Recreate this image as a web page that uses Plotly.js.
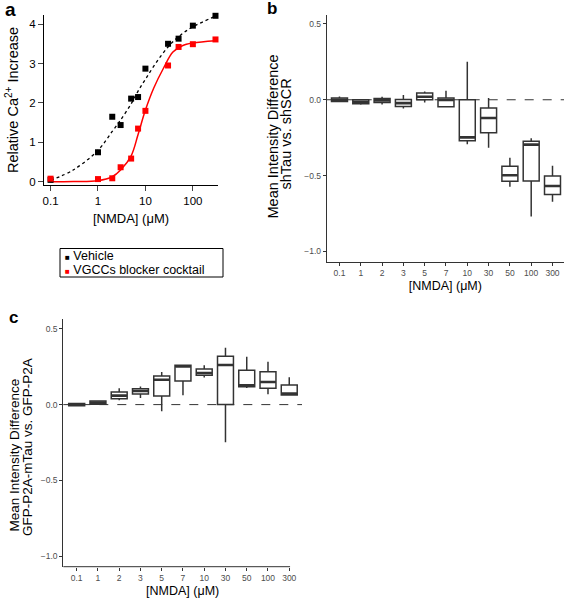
<!DOCTYPE html>
<html>
<head>
<meta charset="utf-8">
<script src="https://cdn.plot.ly/plotly-3.0.1.min.js"></script>
<style>html,body{margin:0;padding:0;background:#fff;}#chart{width:564px;height:601px;}</style>
</head>
<body>
<div id="chart"></div>
<script>
// ---------- Panel a data ----------
const doseA = [0.1, 1, 2, 3, 5, 7, 10, 30, 50, 100, 300];
const vehicle = [0.05, 0.75, 1.65, 1.44, 2.11, 2.15, 2.87, 3.50, 3.63, 3.96, 4.21];
const vgcc = [0.08, 0.07, 0.09, 0.37, 0.59, 1.35, 1.80, 2.95, 3.42, 3.49, 3.61];
// fitted curves
const vehFitX = [0.1, 0.3, 1, 2, 3, 5, 7, 10, 17, 30, 50, 100, 300];
const vehFitY = [0.04, 0.30, 0.80, 1.28, 1.57, 1.98, 2.30, 2.60, 3.03, 3.42, 3.68, 3.93, 4.20];
const vgccFitX = [0.1, 0.3, 1, 2, 3, 5, 7, 10, 15, 24, 38, 60, 100, 300];
const vgccFitY = [0.00, 0.01, 0.03, 0.13, 0.30, 0.66, 1.20, 1.82, 2.38, 2.88, 3.29, 3.45, 3.52, 3.58];
const tickValsA = [0.1, 1, 10, 100];
const tickTextA = ['0.1', '1', '10', '100'];
const legendNames = ['Vehicle', 'VGCCs blocker cocktail'];
const legendColors = ['#000000', '#ff0000'];

// ---------- Panel b/c categories ----------
const cats = ['0.1', '1', '2', '3', '5', '7', '10', '30', '50', '100', '300'];

// ---------- Panel b (shTau vs shSCR) ----------
const bLow = [-0.015, -0.033, -0.031, -0.058, -0.018, -0.049, -0.294, -0.316, -0.573, -0.770, -0.673];
const bQ1  = [-0.011, -0.027, -0.018, -0.044, 0.000, -0.046, -0.270, -0.217, -0.538, -0.535, -0.624];
const bMed = [0.000, -0.013, -0.004, -0.022, 0.020, -0.002, -0.248, -0.120, -0.498, -0.296, -0.569];
const bQ3  = [0.011, 0.000, 0.009, 0.002, 0.044, 0.011, 0.000, -0.055, -0.438, -0.274, -0.502];
const bHigh = [0.022, 0.004, 0.020, 0.031, 0.055, 0.060, 0.250, 0.011, -0.383, -0.254, -0.436];

// ---------- Panel c (GFP-P2A-mTau vs GFP-P2A) ----------
const cLow = [-0.007, -0.002, 0.029, 0.044, -0.044, 0.061, 0.178, -0.248, 0.110, 0.068, 0.059];
const cQ1  = [-0.007, 0.002, 0.039, 0.070, 0.057, 0.156, 0.193, 0.000, 0.118, 0.107, 0.064];
const cMed = [0.000, 0.013, 0.059, 0.090, 0.164, 0.252, 0.208, 0.261, 0.127, 0.149, 0.072];
const cQ3  = [0.007, 0.024, 0.083, 0.105, 0.189, 0.259, 0.235, 0.318, 0.226, 0.217, 0.129];
const cHigh = [0.007, 0.029, 0.107, 0.120, 0.215, 0.259, 0.259, 0.375, 0.316, 0.283, 0.180];

const yTickVals = [-1, -0.5, 0, 0.5];
const FONT = 'Liberation Sans, Arial, Helvetica, sans-serif';
const BOXC = '#333333';
const W = 564, H = 601;
const px = v => v / W;          // pixel -> paper x
const py = v => 1 - v / H;      // pixel -> paper y

function boxTrace(low, q1, med, q3, high, xa, ya) {
  return {
    type: 'box', x: cats, q1: q1, median: med, q3: q3,
    lowerfence: low, upperfence: high,
    xaxis: xa, yaxis: ya, boxpoints: false, whiskerwidth: 0,
    width: 0.75, fillcolor: '#ffffff',
    line: {color: BOXC, width: 1.5},
    showlegend: false, hoverinfo: 'skip'
  };
}
function medTrace(med, xa, ya) {
  return {
    type: 'scatter', mode: 'markers', x: cats, y: med, xaxis: xa, yaxis: ya,
    marker: {symbol: 'line-ew-open', size: 11, color: BOXC, line: {color: BOXC, width: 2.6}},
    showlegend: false, hoverinfo: 'skip'
  };
}

const data = [
  {type: 'scatter', mode: 'lines', x: vehFitX, y: vehFitY, xaxis: 'x', yaxis: 'y',
   line: {color: '#000', width: 1.3, dash: 'dot', shape: 'spline'}, showlegend: false, hoverinfo: 'skip'},
  {type: 'scatter', mode: 'lines', x: vgccFitX, y: vgccFitY, xaxis: 'x', yaxis: 'y',
   line: {color: '#ff0000', width: 1.5, shape: 'spline'}, showlegend: false, hoverinfo: 'skip'},
  {type: 'scatter', mode: 'markers', name: legendNames[0], x: doseA, y: vehicle, xaxis: 'x', yaxis: 'y',
   marker: {symbol: 'square', size: 6, color: legendColors[0]}, cliponaxis: false, showlegend: false},
  {type: 'scatter', mode: 'markers', name: legendNames[1], x: doseA, y: vgcc, xaxis: 'x', yaxis: 'y',
   marker: {symbol: 'square', size: 6, color: legendColors[1]}, cliponaxis: false, showlegend: false},
  boxTrace(bLow, bQ1, bMed, bQ3, bHigh, 'x2', 'y2'),
  medTrace(bMed, 'x2', 'y2'),
  boxTrace(cLow, cQ1, cMed, cQ3, cHigh, 'x3', 'y3'),
  medTrace(cMed, 'x3', 'y3')
];

const catAxis = {
  type: 'category', showline: true, linecolor: BOXC, linewidth: 1,
  ticks: 'outside', ticklen: 3, tickcolor: BOXC, tickwidth: 1,
  tickfont: {size: 8.5, color: '#4d4d4d', family: FONT},
  showgrid: false, zeroline: false, automargin: false,
  title: {text: '[NMDA] (μM)', font: {size: 12.5, color: '#000', family: FONT}, standoff: 4}
};
const numAxis = {
  showline: true, linecolor: BOXC, linewidth: 1,
  ticks: 'outside', ticklen: 3, tickcolor: BOXC, tickwidth: 1,
  tickvals: yTickVals, tickformat: '.1f',
  tickfont: {size: 8.5, color: '#4d4d4d', family: FONT},
  showgrid: false, zeroline: false, automargin: false
};

function vText(text, x, y, size) {
  return {text: text, xref: 'paper', yref: 'paper', x: px(x), y: py(y), textangle: -90,
          showarrow: false, xanchor: 'center', yanchor: 'middle',
          font: {size: size, family: FONT, color: '#000'}};
}

const layout = {
  width: W, height: H,
  margin: {l: 0, r: 0, t: 0, b: 0},
  paper_bgcolor: '#fff', plot_bgcolor: 'rgba(0,0,0,0)',
  font: {family: FONT, color: '#000'},
  showlegend: false,
  xaxis: {domain: [px(44), px(218)], anchor: 'y', type: 'log', range: [-1.138, 2.53],
          showline: true, linecolor: '#000', linewidth: 1, ticks: 'outside', ticklen: 5,
          tickvals: tickValsA, ticktext: tickTextA, tickfont: {size: 11.5, family: FONT},
          showgrid: false, zeroline: false, automargin: false,
          title: {text: '[NMDA] (μM)', font: {size: 13, family: FONT}, standoff: 8}},
  yaxis: {domain: [py(185), py(15)], anchor: 'x', range: [-0.08, 4.23],
          showline: true, linecolor: '#000', linewidth: 1, ticks: 'outside', ticklen: 5,
          tickvals: [0, 1, 2, 3, 4], tickfont: {size: 11.5, family: FONT},
          showgrid: false, zeroline: false, automargin: false},
  xaxis2: Object.assign({}, catAxis, {domain: [px(326.7), 1], anchor: 'y2', range: [-0.6, 10.54]}),
  yaxis2: Object.assign({}, numAxis, {domain: [py(261.7), py(15)], anchor: 'x2', range: [-1.068, 0.559]}),
  xaxis3: Object.assign({}, catAxis, {domain: [px(63.3), px(302)], anchor: 'y3', range: [-0.63, 10.6], showline: false}),
  yaxis3: Object.assign({}, numAxis, {domain: [py(566.7), py(319.3)], anchor: 'x3', range: [-1.068, 0.562]}),
  shapes: [
    {type: 'line', layer: 'below', xref: 'x2 domain', yref: 'y2', x0: 0, x1: 1, y0: 0, y1: 0,
     line: {color: BOXC, width: 1, dash: 'dash'}},
    {type: 'line', layer: 'below', xref: 'x3 domain', yref: 'y3', x0: 0, x1: 1, y0: 0, y1: 0,
     line: {color: BOXC, width: 1, dash: 'dash'}},
    {type: 'line', xref: 'x3 domain', yref: 'y3 domain', x0: 0, x1: 0.95, y0: 0, y1: 0,
     line: {color: BOXC, width: 1}},
    // legend frame
    {type: 'rect', xref: 'paper', yref: 'paper', x0: px(60), x1: px(223), y0: py(277), y1: py(248.5),
     line: {color: '#000', width: 1}, fillcolor: '#fff'}
  ],
  annotations: [
    {text: '<b>a</b>', xref: 'paper', yref: 'paper', x: px(10.5), y: py(9.5), showarrow: false,
     xanchor: 'center', yanchor: 'middle', font: {size: 19, family: FONT}},
    {text: '<b>b</b>', xref: 'paper', yref: 'paper', x: px(272), y: py(9), showarrow: false,
     xanchor: 'center', yanchor: 'middle', font: {size: 17, family: FONT}},
    {text: '<b>c</b>', xref: 'paper', yref: 'paper', x: px(13), y: py(317.5), showarrow: false,
     xanchor: 'center', yanchor: 'middle', font: {size: 17, family: FONT}},
    vText('Relative Ca<sup>2+</sup> Increase', 12, 100, 14.5),
    vText('Mean Intensity Difference', 272, 136.5, 14.5),
    vText('shTau vs. shSCR', 285.5, 134, 14.5),
    vText('Mean Intensity Difference', 14, 455.5, 13.5),
    vText('GFP-P2A-mTau vs. GFP-P2A', 27, 447, 13.5),
    // legend entries
    {text: '<span style="color:' + legendColors[0] + ';font-size:8px">■</span> ' + legendNames[0],
     xref: 'paper', yref: 'paper', x: px(63), y: py(256), showarrow: false,
     xanchor: 'left', yanchor: 'middle', font: {size: 12.5, family: FONT}},
    {text: '<span style="color:' + legendColors[1] + ';font-size:8px">■</span> ' + legendNames[1],
     xref: 'paper', yref: 'paper', x: px(63), y: py(269.5), showarrow: false,
     xanchor: 'left', yanchor: 'middle', font: {size: 12.5, family: FONT}}
  ]
};

Plotly.newPlot('chart', data, layout, {staticPlot: true, displayModeBar: false});
</script>
</body>
</html>
